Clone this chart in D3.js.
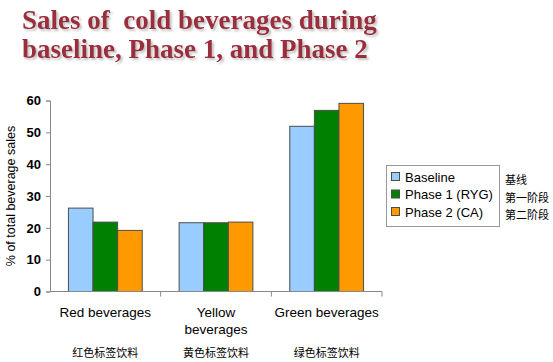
<!DOCTYPE html>
<html>
<head>
<meta charset="utf-8">
<script src="https://cdn.jsdelivr.net/npm/d3@7"></script>
<style>
  body { margin: 0; background: #fff; }
  svg { display: block; }
</style>
</head>
<body>
<div id="chart"></div>
<script>
const categories = ["Red beverages", "Yellow beverages", "Green beverages"];
const categoryLines = [["Red beverages"], ["Yellow", "beverages"], ["Green beverages"]];
const categoryZh = ["红色标签饮料", "黄色标签饮料", "绿色标签饮料"];
const seriesNames = ["Baseline", "Phase 1 (RYG)", "Phase 2 (CA)"];
const seriesZh = ["基线", "第一阶段", "第二阶段"];
const baseline = [26.2, 21.6, 51.9];
const phase1 = [21.8, 21.6, 56.9];
const phase2 = [19.2, 21.8, 59.1];
const yTicks = [0, 10, 20, 30, 40, 50, 60];
const colors = ["#99CCFF", "#008000", "#FF9900"];

const width = 553, height = 362;
const marginLeft = 50, plotRight = 382, plotTop = 100.5, plotBottom = 291.5;

const svg = d3.select("#chart").append("svg")
  .attr("width", width).attr("height", height);

// soft shadow for the title
const filter = svg.append("defs").append("filter").attr("id", "shadow")
  .attr("x", "-5%").attr("y", "-20%").attr("width", "110%").attr("height", "150%");
filter.append("feDropShadow").attr("dx", 2).attr("dy", 2).attr("stdDeviation", 1)
  .attr("flood-color", "#999").attr("flood-opacity", 0.6);

const title = ["Sales of  cold beverages during", "baseline, Phase 1, and Phase 2"];
const tg = svg.append("g").attr("filter", "url(#shadow)")
  .style("font-family", "'Liberation Serif', 'DejaVu Serif', serif")
  .style("font-weight", "bold").style("font-size", "27px");
title.forEach((t, i) => {
  tg.append("text").attr("x", 22).attr("y", 29 + i * 29).attr("fill", "#9B2D3E")
    .attr("xml:space", "preserve").text(t);
});

const x = d3.scaleBand().domain(categories).range([marginLeft, plotRight]).paddingInner(0).paddingOuter(0);
const barW = x.bandwidth() / 4.5;
const xs = d3.scaleBand().domain(seriesNames).range([0, barW * 3]);
const y = d3.scaleLinear().domain([0, 60]).range([plotBottom, plotTop]);

const data = categories.map((c, i) => ({
  cat: c,
  vals: [baseline[i], phase1[i], phase2[i]]
}));

// Bars
const groups = svg.append("g").selectAll("g").data(data).join("g")
  .attr("transform", d => `translate(${x(d.cat) + barW * 0.75},0)`);
groups.selectAll("rect").data(d => d.vals.map((v, j) => ({ v, j }))).join("rect")
  .attr("x", d => xs(seriesNames[d.j]))
  .attr("y", d => y(d.v))
  .attr("width", xs.bandwidth())
  .attr("height", d => y(0) - y(d.v))
  .attr("fill", d => colors[d.j])
  .attr("stroke", "#4d4d4d")
  .attr("stroke-width", 1);

// Y axis
const yAxis = svg.append("g").attr("transform", `translate(${marginLeft},0)`)
  .call(d3.axisLeft(y).tickValues(yTicks).tickSize(4).tickPadding(5));
yAxis.select(".domain").attr("stroke", "#888");
yAxis.selectAll(".tick line").attr("stroke", "#888");
yAxis.selectAll(".tick text").attr("fill", "#000")
  .style("font-family", "'Liberation Sans', Arial, sans-serif")
  .style("font-weight", "bold").style("font-size", "13px");

// X axis with dividers between categories
const xAxis = svg.append("g").attr("transform", `translate(0,${plotBottom})`);
xAxis.append("line").attr("x1", marginLeft).attr("x2", plotRight).attr("stroke", "#888");
xAxis.selectAll(".div").data(categories).join("line")
  .attr("x1", d => x(d) + x.bandwidth()).attr("x2", d => x(d) + x.bandwidth())
  .attr("y1", 0).attr("y2", 5).attr("stroke", "#888");

// Category labels
const lab = svg.append("g").style("font-family", "'Liberation Sans', Arial, sans-serif")
  .style("font-size", "13.5px").attr("text-anchor", "middle");
categories.forEach((c, i) => {
  const cx = x(c) + x.bandwidth() / 2;
  categoryLines[i].forEach((ln, k) => {
    lab.append("text").attr("x", cx).attr("y", 317 + k * 17).attr("fill", "#000").text(ln);
  });
  lab.append("text").attr("x", cx).attr("y", 357)
    .style("font-family", "'Noto Sans CJK SC', sans-serif").style("font-size", "11px")
    .attr("fill", "#000").text(categoryZh[i]);
});

// Y axis title
svg.append("text")
  .attr("transform", `translate(15,${(plotTop + plotBottom) / 2}) rotate(-90)`)
  .attr("text-anchor", "middle")
  .style("font-family", "'Liberation Sans', Arial, sans-serif").style("font-size", "12.5px")
  .text("% of total beverage sales");

// Legend
const legend = svg.append("g");
legend.append("rect").attr("x", 386.5).attr("y", 165.5).attr("width", 113).attr("height", 61)
  .attr("fill", "#fff").attr("stroke", "#999");
seriesNames.forEach((s, i) => {
  const ly = 177 + i * 17.5;
  legend.append("rect").attr("x", 391.5).attr("y", ly - 4.5).attr("width", 8).attr("height", 8)
    .attr("fill", colors[i]).attr("stroke", "#4d4d4d");
  legend.append("text").attr("x", 405).attr("y", ly + 4.5)
    .style("font-family", "'Liberation Sans', Arial, sans-serif").style("font-size", "13px")
    .text(s);
  legend.append("text").attr("x", 505).attr("y", ly + 7)
    .style("font-family", "'Noto Sans CJK SC', sans-serif").style("font-size", "11px")
    .text(seriesZh[i]);
});
</script>
</body>
</html>
